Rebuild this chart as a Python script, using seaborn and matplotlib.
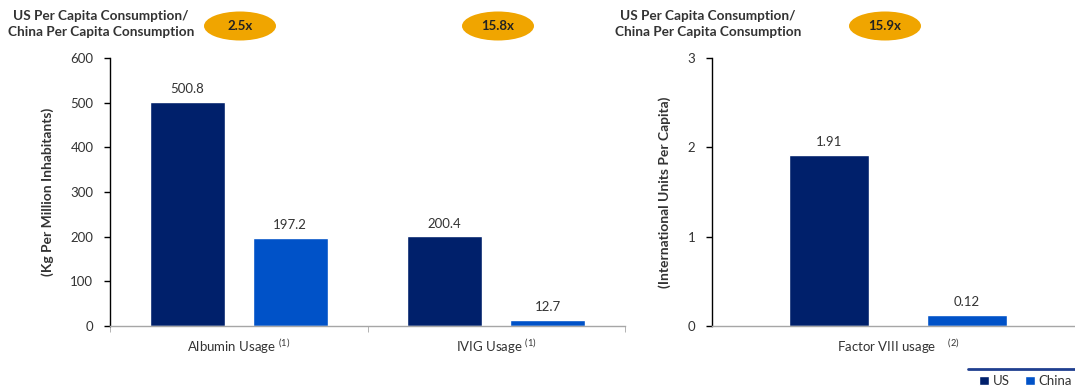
import matplotlib
matplotlib.use("Agg")
import matplotlib.pyplot as plt
from matplotlib.patches import Ellipse
from matplotlib.lines import Line2D
import pandas as pd
import seaborn as sns

# data
countries = ["US", "China"]
left_products = ["Albumin Usage $^{(1)}$", "IVIG Usage $^{(1)}$"]
left_us = [500.8, 200.4]
left_china = [197.2, 12.7]
right_products = ["Factor VIII usage$\\quad^{(2)}$"]
right_us = [1.91]
right_china = [0.12]
ratios = ["2.5x", "15.8x", "15.9x"]

sns.set_style("white")
plt.rcParams['font.family'] = ['Lato', 'DejaVu Sans']
plt.rcParams['mathtext.default'] = 'regular'

pal = {"US": "#00206b", "China": "#0052c8"}
txt = "#333333"

df_left = pd.DataFrame({
    "product": left_products * 2,
    "country": ["US"] * len(left_products) + ["China"] * len(left_products),
    "value": left_us + left_china,
})
df_right = pd.DataFrame({
    "product": right_products * 2,
    "country": ["US"] * len(right_products) + ["China"] * len(right_products),
    "value": right_us + right_china,
})

fig = plt.figure(figsize=(10.75, 3.9), dpi=100)
W, H = 1075, 390

def px(x0, y0, x1, y1):
    return [x0 / W, 1 - y1 / H, (x1 - x0) / W, (y1 - y0) / H]

ax1 = fig.add_axes(px(110, 58, 625, 326))
ax2 = fig.add_axes(px(712, 58, 1084, 326))

sns.barplot(data=df_left, x="product", y="value", hue="country", hue_order=countries,
            palette=pal, width=0.8, gap=0.275, ax=ax1, saturation=1)
sns.barplot(data=df_right, x="product", y="value", hue="country", hue_order=countries,
            palette=pal, width=0.74, gap=0.42, ax=ax2, saturation=1, legend=False)

handles, labels = ax1.get_legend_handles_labels()
ax1.get_legend().remove()

for c in ax1.containers:
    ax1.bar_label(c, fmt="%.1f", padding=5, fontsize=9.5, color=txt)
for c in ax2.containers:
    ax2.bar_label(c, fmt="%.2f", padding=5, fontsize=9.5, color=txt)

ax1.set_ylim(0, 600)
ax1.set_yticks(range(0, 601, 100))
ax1.set_xlim(-0.5, 1.5)
ax2.set_ylim(0, 3)
ax2.set_yticks([0, 1, 2, 3])
ax2.set_xlim(-0.5, 0.5)

for ax, ylab in [(ax1, "(Kg Per Million Inhabitants)"), (ax2, "(International Units Per Capita)")]:
    ax.set_xlabel("")
    ax.set_ylabel(ylab, fontsize=10, fontweight="bold", color=txt, labelpad=12)
    for s in ["top", "right"]:
        ax.spines[s].set_visible(False)
    ax.spines["left"].set_color("black")
    ax.spines["left"].set_linewidth(1)
    ax.spines["bottom"].set_color("#a6a6a6")
    ax.spines["bottom"].set_linewidth(1)
    ax.tick_params(axis="y", direction="out", length=4, width=1, color="black",
                   left=True, labelsize=9.5, labelcolor=txt, pad=8)
    ax.tick_params(axis="x", which="major", length=0, labelsize=9.5, labelcolor=txt, pad=8)
    ax.tick_params(axis="x", which="minor", direction="out", length=4, color="#a6a6a6", bottom=True)

ax1.set_xticks([-0.5, 0.5, 1.5], minor=True)
ax2.set_xticks([0.5], minor=True)

# headers
hdr = "US Per Capita Consumption/\nChina Per Capita Consumption"
fig.text(101 / W, 1 - 24 / H, hdr, ha="center", va="center", fontsize=9.8,
         fontweight="bold", color=txt, linespacing=1.3)
fig.text(708 / W, 1 - 24 / H, hdr, ha="center", va="center", fontsize=9.8,
         fontweight="bold", color=txt, linespacing=1.3)

for cx, r in zip([240, 498, 885], ratios):
    fig.add_artist(Ellipse((cx / W, 1 - 26 / H), 72 / W, 29 / H,
                           transform=fig.transFigure, facecolor="#f0a500", edgecolor="none"))
    fig.text(cx / W, 1 - 26 / H, r, ha="center", va="center", fontsize=9.5,
             fontweight="bold", color="#222222")

# legend strip at bottom right
fig.add_artist(Line2D([968 / W, 1], [1 - 369 / H] * 2, transform=fig.transFigure,
                      color="#1f3f8f", lw=2))
fig.legend(handles, labels, loc="center right", bbox_to_anchor=(1072 / W, 1 - 381 / H),
           ncol=2, frameon=False, fontsize=9.5, handlelength=0.7, handleheight=0.7,
           handletextpad=0.3, columnspacing=1.2, borderaxespad=0, borderpad=0,
           labelcolor=txt)

fig.savefig("out.png", dpi=100)
